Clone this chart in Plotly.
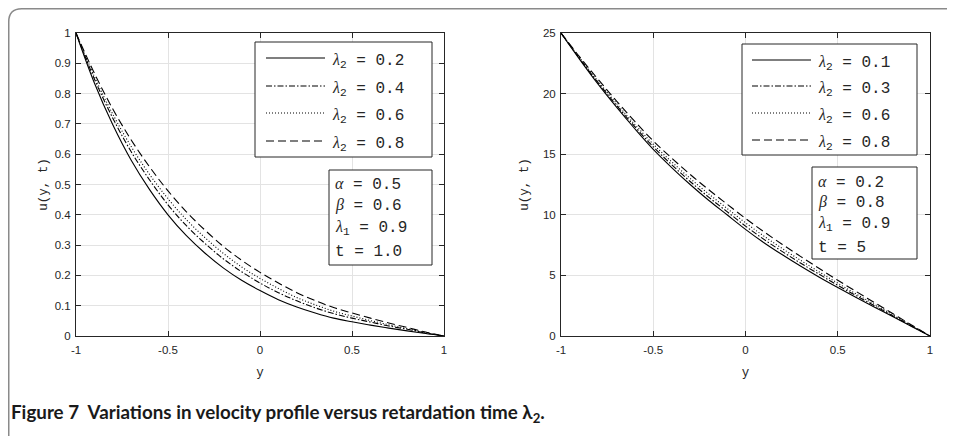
import plotly.graph_objects as go

# sample positions across the channel
y_pos = [-1.0, -0.9, -0.8, -0.7, -0.6, -0.5, -0.4, -0.3, -0.2, -0.1, 0.0,
         0.1, 0.2, 0.3, 0.4, 0.5, 0.6, 0.7, 0.8, 0.9, 1.0]

# left panel: alpha=0.5, beta=0.6, lambda1=0.9, t=1.0
left_labels = ["0.2", "0.4", "0.6", "0.8"]
u_left_02 = [1.000, 0.835, 0.697, 0.580, 0.483, 0.400, 0.331, 0.274, 0.225, 0.184, 0.150,
             0.120, 0.096, 0.076, 0.059, 0.047, 0.036, 0.026, 0.017, 0.008, 0.0]
u_left_04 = [1.000, 0.848, 0.719, 0.608, 0.515, 0.433, 0.364, 0.306, 0.255, 0.212, 0.175,
             0.143, 0.116, 0.093, 0.074, 0.059, 0.046, 0.033, 0.022, 0.010, 0.0]
u_left_06 = [1.000, 0.856, 0.732, 0.625, 0.533, 0.453, 0.384, 0.325, 0.273, 0.228, 0.190,
             0.157, 0.127, 0.103, 0.082, 0.066, 0.051, 0.037, 0.024, 0.011, 0.0]
u_left_08 = [1.000, 0.867, 0.749, 0.647, 0.558, 0.479, 0.410, 0.350, 0.296, 0.250, 0.210,
             0.175, 0.143, 0.117, 0.094, 0.076, 0.059, 0.043, 0.028, 0.013, 0.0]

# right panel: alpha=0.2, beta=0.8, lambda1=0.9, t=5
right_labels = ["0.1", "0.3", "0.6", "0.8"]
u_right_01 = [25.0, 22.85, 20.8, 18.9, 17.1, 15.4, 13.9, 12.5, 11.2, 10.0, 8.8,
              7.7, 6.7, 5.75, 4.85, 4.0, 3.18, 2.38, 1.58, 0.79, 0.0]
u_right_03 = [25.0, 22.91, 20.92, 19.05, 17.28, 15.61, 14.13, 12.75, 11.46, 10.26, 9.07,
              7.97, 6.96, 6.0, 5.09, 4.18, 3.33, 2.49, 1.65, 0.83, 0.0]
u_right_06 = [25.0, 22.97, 21.04, 19.2, 17.46, 15.82, 14.37, 13.0, 11.73, 10.53, 9.34,
              8.24, 7.21, 6.23, 5.28, 4.36, 3.47, 2.6, 1.73, 0.86, 0.0]
u_right_08 = [25.0, 23.05, 21.2, 19.4, 17.7, 16.1, 14.68, 13.33, 12.08, 10.88, 9.7,
              8.6, 7.55, 6.55, 5.57, 4.6, 3.67, 2.75, 1.83, 0.91, 0.0]

left_params = ["α", "0.5", "β", "0.6", "0.9", "1.0"]
right_params = ["α", "0.2", "β", "0.8", "0.9", "5"]

x_ticks = [-1, -0.5, 0, 0.5, 1]
x_ticktext = ["-1", "-0.5", "0", "0.5", "1"]

# the page body adds an 8px margin, so the figure is a bit smaller and
# every layout position below is given in window pixels minus that margin
OFF = 8
W, H = 955 - 2 * OFF, 444 - 2 * OFF
mono = "Liberation Mono"
serif = "Liberation Serif"
ink = "#262626"
# solid, dash-dot, dotted, dashed (MATLAB-like patterns)
dashes = ["solid", "6px,2px,1.5px,2px", "1px,2px", "8px,4px"]


def px(x):
    return (x - OFF) / W


def py(y):
    return 1 - (y - OFF) / H


def lam(sub):
    return ('<span style="font-family:%s"><i>λ</i></span><sub>%s</sub>' % (serif, sub))


def greek(ch):
    return '<span style="font-family:%s"><i>%s</i></span>' % (serif, ch)


fig = go.Figure()

for series, dash in zip([u_left_02, u_left_04, u_left_06, u_left_08], dashes):
    fig.add_trace(go.Scatter(
        x=y_pos, y=series, mode="lines", line_shape="spline", showlegend=False,
        line=dict(color="black", width=1.1, dash=dash), xaxis="x", yaxis="y"))

for series, dash in zip([u_right_01, u_right_03, u_right_06, u_right_08], dashes):
    fig.add_trace(go.Scatter(
        x=y_pos, y=series, mode="lines", line_shape="spline", showlegend=False,
        line=dict(color="black", width=1.1, dash=dash), xaxis="x2", yaxis="y2"))

axis_common = dict(
    showline=True, linecolor=ink, linewidth=1, mirror="ticks", automargin=False,
    ticks="inside", ticklen=5, tickcolor=ink,
    showgrid=True, gridcolor="#e3e3e3", zeroline=False,
    tickfont=dict(family="Liberation Sans", size=11.5, color=ink),
    title_font=dict(family=mono, size=12.5, color=ink),
)

top, bottom = py(33), py(336)

fig.update_layout(
    width=W, height=H, margin=dict(l=0, r=0, t=0, b=0),
    paper_bgcolor="white", plot_bgcolor="white", showlegend=False,
    xaxis=dict(domain=[px(76), px(444)], range=[-1, 1], tickvals=x_ticks,
               ticktext=x_ticktext, anchor="y", ticklabelstandoff=3,
               title=dict(text="y", standoff=12), **axis_common),
    yaxis=dict(domain=[bottom, top], range=[0, 1], dtick=0.1, anchor="x",
               ticklabelstandoff=2,
               title=dict(text="u(y, t)", standoff=4), **axis_common),
    xaxis2=dict(domain=[px(561), px(930)], range=[-1, 1], tickvals=x_ticks,
                ticktext=x_ticktext, anchor="y2", ticklabelstandoff=3,
                title=dict(text="y", standoff=12), **axis_common),
    yaxis2=dict(domain=[bottom, top], range=[0, 25], dtick=5, anchor="x2",
                ticklabelstandoff=2,
                title=dict(text="u(y, t)", standoff=11), **axis_common),
)


def add_box(x0, y0, x1, y1):
    fig.add_shape(type="rect", xref="paper", yref="paper",
                  x0=px(x0), x1=px(x1), y0=py(y1), y1=py(y0),
                  line=dict(color=ink, width=1), fillcolor="white", layer="above")


def add_text(x, y, text):
    fig.add_annotation(x=px(x), y=py(y), xref="paper", yref="paper",
                       xanchor="left", yanchor="middle", showarrow=False,
                       text=text, font=dict(family=mono, size=16, color=ink))


def add_legend(box, sx0, sx1, rows, labels):
    add_box(*box)
    for yy, lbl, dash in zip(rows, labels, dashes):
        fig.add_shape(type="line", xref="paper", yref="paper",
                      x0=px(sx0), x1=px(sx1), y0=py(yy), y1=py(yy),
                      line=dict(color="black", width=1.1, dash=dash), layer="above")
        add_text(sx1 + 5, yy + 3, lam("2") + " = " + lbl)


def add_params(box, tx, rows, p):
    add_box(*box)
    lines = [greek(p[0]) + " = " + p[1],
             greek(p[2]) + " = " + p[3],
             lam("1") + " = " + p[4],
             "t = " + p[5]]
    for yy, t in zip(rows, lines):
        add_text(tx, yy, t)


add_legend((255, 42, 432, 157), 266, 325, [58, 86, 113, 141], left_labels)
add_legend((742, 44, 917, 155), 752, 811, [60, 86, 113, 140], right_labels)
add_params((329, 170, 432, 265), 333, [185, 205, 228, 252], left_params)
add_params((812, 167, 917, 259), 816, [182, 202, 224, 248], right_params)

# caption
fig.add_annotation(x=px(9), y=py(413), xref="paper", yref="paper",
                   xanchor="left", yanchor="middle", showarrow=False,
                   text="<b>Figure 7  Variations in velocity profile versus retardation time λ<sub>2</sub>.</b>",
                   font=dict(family="Lato", size=18.8, color="#1a1a1a"))

# page frame with rounded top-left corner (pushed to the figure edge)
x0, yt, r = 0.75 / W, 1 - 0.75 / H, 13
fig.add_shape(type="path", xref="paper", yref="paper",
              path="M %f,-0.05 L %f,%f Q %f,%f %f,%f L 1.05,%f" % (
                  x0, x0, yt - r / H, x0, yt, x0 + r / W, yt, yt),
              line=dict(color="#8a8a8a", width=1.5))

fig.write_html("out.html")
